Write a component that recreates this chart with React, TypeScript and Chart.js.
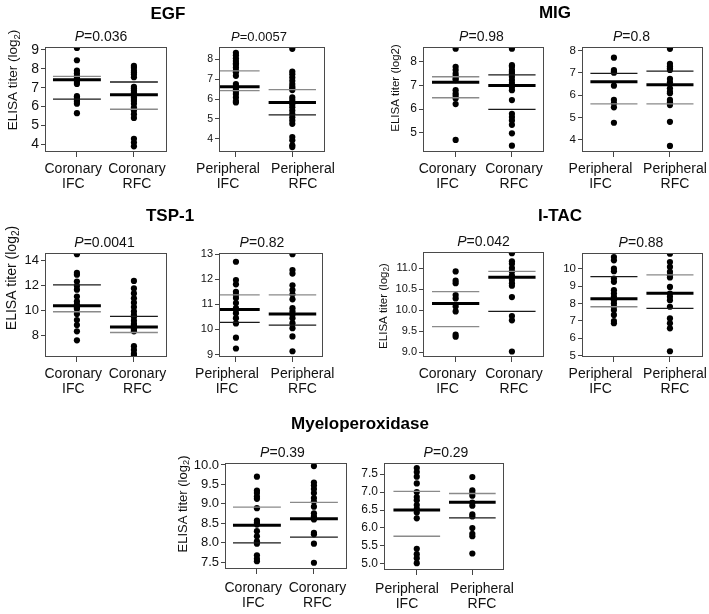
import React, { useEffect, useRef } from "react";
import { Chart, registerables } from "chart.js";
Chart.register(...registerables);

const FONT = "'Liberation Sans', Arial, Helvetica, sans-serif";

// ---------- categories / titles ----------
const coronaryCategories = [["Coronary", "IFC"], ["Coronary", "RFC"]];
const peripheralCategories = [["Peripheral", "IFC"], ["Peripheral", "RFC"]];
const panelTitles = ["EGF", "MIG", "TSP-1", "I-TAC", "Myeloperoxidase"];
const yTitleParts = ["ELISA titer (log", "2", ")"];
const yTitlePlain = ["ELISA titer (log2", "", ")"];

// ---------- EGF ----------
const egfCorIFC = [9.1, 8.45, 7.9, 7.75, 7.6, 7.5, 7.45, 7.4, 7.3, 7.2, 6.55, 6.45, 6.35, 6.25, 6.15, 5.65];
const egfCorRFC = [8.15, 8.05, 7.9, 7.8, 7.7, 7.55, 7.05, 6.95, 6.85, 6.75, 6.65, 6.5, 6.4, 6.3, 6.15, 5.95, 5.8, 5.6, 5.4, 4.3, 4.1, 3.9];
const egfCorMedian = [7.42, 6.63];
const egfCorQ3 = [7.6, 7.3];
const egfCorQ1 = [6.39, 5.86];
const egfCorTicks = [4, 5, 6, 7, 8, 9];
const egfCorP = "0.036";

const egfPerIFC = [8.33, 8.2, 8.05, 7.92, 7.8, 7.72, 7.58, 7.42, 7.35, 7.17, 6.75, 6.62, 6.5, 6.38, 6.25, 6.08, 5.9, 5.83];
const egfPerRFC = [8.53, 7.38, 7.25, 7.08, 6.92, 6.75, 6.62, 6.53, 6.45, 6.08, 5.95, 5.83, 5.72, 5.58, 5.42, 5.25, 5.08, 4.92, 4.75, 4.08, 3.92, 3.67, 3.58];
const egfPerMedian = [6.62, 5.83];
const egfPerQ3 = [7.42, 6.47];
const egfPerQ1 = [6.42, 5.2];
const egfPerTicks = [4, 5, 6, 7, 8];
const egfPerP = "0.0057";

// ---------- MIG ----------
const migCorIFC = [8.56, 7.79, 7.65, 7.5, 7.39, 7.3, 7.23, 6.8, 6.66, 6.56, 6.45, 6.21, 4.69];
const migCorRFC = [8.56, 7.86, 7.79, 7.65, 7.58, 7.51, 7.37, 7.23, 7.1, 6.94, 6.8, 6.38, 5.8, 5.66, 5.52, 5.33, 4.97, 4.45];
const migCorMedian = [7.14, 7.0];
const migCorQ3 = [7.37, 7.45];
const migCorQ1 = [6.48, 5.99];
const migCorTicks = [5, 6, 7, 8];
const migCorP = "0.98";

const migPerIFC = [7.67, 7.12, 7.05, 7.0, 6.42, 5.78, 5.63, 5.45, 4.76];
const migPerRFC = [8.07, 7.4, 7.28, 7.2, 7.12, 6.72, 6.57, 6.3, 6.15, 6.08, 5.78, 5.67, 5.55, 4.8, 3.72];
const migPerMedian = [6.6, 6.46];
const migPerQ3 = [6.97, 7.07];
const migPerQ1 = [5.6, 5.6];
const migPerTicks = [4, 5, 6, 7, 8];
const migPerP = "0.8";

// ---------- TSP-1 ----------
const tspCorIFC = [14.5, 13.0, 12.85, 12.3, 11.95, 11.65, 11.1, 10.7, 10.45, 10.3, 10.2, 10.1, 9.7, 9.2, 8.8, 8.3, 7.57];
const tspCorRFC = [12.35, 11.75, 11.35, 10.95, 10.6, 10.25, 9.9, 9.62, 9.45, 9.15, 8.9, 8.8, 8.75, 8.65, 8.55, 8.5, 8.4, 8.3, 7.1, 6.8, 6.5, 6.35];
const tspCorMedian = [10.35, 8.65];
const tspCorQ3 = [12.03, 9.5];
const tspCorQ1 = [9.87, 8.2];
const tspCorTicks = [8, 10, 12, 14];
const tspCorP = "0.0041";

const tspPerIFC = [12.7, 11.97, 11.8, 11.5, 11.38, 11.25, 11.05, 10.85, 10.8, 10.65, 10.45, 10.24, 9.67, 9.24];
const tspPerRFC = [13.0, 12.37, 12.23, 11.76, 11.57, 11.4, 11.2, 10.85, 10.72, 10.6, 10.45, 10.25, 10.05, 9.72, 9.13];
const tspPerMedian = [10.8, 10.62];
const tspPerQ3 = [11.38, 11.38];
const tspPerQ1 = [10.28, 10.17];
const tspPerTicks = [9, 10, 11, 12, 13];
const tspPerP = "0.82";

// ---------- I-TAC ----------
const itacCorIFC = [10.92, 10.7, 10.64, 10.36, 10.28, 10.09, 9.97, 9.42, 9.37];
const itacCorRFC = [11.35, 11.16, 11.1, 11.0, 10.92, 10.82, 10.72, 10.64, 10.58, 10.31, 9.86, 9.76, 9.02];
const itacCorMedian = [10.16, 10.78];
const itacCorQ3 = [10.44, 10.92];
const itacCorQ1 = [9.61, 9.97];
const itacCorTicks = [9.0, 9.5, 10.0, 10.5, 11.0];
const itacCorP = "0.042";

const itacPerIFC = [10.67, 10.48, 10.0, 9.85, 9.43, 9.24, 8.76, 8.57, 8.38, 8.19, 8.0, 7.81, 7.62, 7.34, 6.99, 6.86];
const itacPerRFC = [10.86, 10.38, 10.1, 9.81, 9.62, 9.49, 8.95, 8.57, 8.38, 8.19, 7.81, 7.14, 6.86, 6.57, 5.25];
const itacPerMedian = [8.27, 8.59];
const itacPerQ3 = [9.54, 9.64];
const itacPerQ1 = [7.81, 7.72];
const itacPerTicks = [5, 6, 7, 8, 9, 10];
const itacPerP = "0.88";

// ---------- Myeloperoxidase ----------
const mpoCorIFC = [9.7, 9.34, 9.28, 9.19, 9.13, 8.89, 8.57, 8.52, 8.47, 8.3, 8.17, 8.04, 7.98, 7.68, 7.59, 7.53];
const mpoCorRFC = [9.97, 9.55, 9.47, 9.38, 9.28, 9.15, 9.06, 8.93, 8.76, 8.68, 8.64, 8.6, 8.26, 8.22, 7.98, 7.49];
const mpoCorMedian = [8.45, 8.62];
const mpoCorQ3 = [8.92, 9.04];
const mpoCorQ1 = [8.0, 8.15];
const mpoCorTicks = [7.5, 8.0, 8.5, 9.0, 9.5, 10.0];
const mpoCorP = "0.39";

const mpoPerIFC = [7.67, 7.56, 7.43, 7.24, 7.0, 6.86, 6.77, 6.64, 6.53, 6.43, 6.27, 5.42, 5.27, 5.16, 5.02];
const mpoPerRFC = [7.42, 7.05, 6.98, 6.9, 6.71, 6.62, 6.38, 6.32, 6.0, 5.84, 5.77, 5.29];
const mpoPerMedian = [6.5, 6.72];
const mpoPerQ3 = [7.02, 6.96];
const mpoPerQ1 = [5.77, 6.28];
const mpoPerTicks = [5.0, 5.5, 6.0, 6.5, 7.0, 7.5];
const mpoPerP = "0.29";

type PanelData = {
  cats: string[][];
  ifc: number[];
  rfc: number[];
  med: number[];
  q3: number[];
  q1: number[];
  ticks: number[];
  dec: number;
  yMin: number;
  yMax: number;
  p: string;
};

const panels: PanelData[] = [
  { cats: coronaryCategories, ifc: egfCorIFC, rfc: egfCorRFC, med: egfCorMedian, q3: egfCorQ3, q1: egfCorQ1, ticks: egfCorTicks, dec: 0, yMin: 3.6, yMax: 9.15, p: egfCorP },
  { cats: peripheralCategories, ifc: egfPerIFC, rfc: egfPerRFC, med: egfPerMedian, q3: egfPerQ3, q1: egfPerQ1, ticks: egfPerTicks, dec: 0, yMin: 3.33, yMax: 8.62, p: egfPerP },
  { cats: coronaryCategories, ifc: migCorIFC, rfc: migCorRFC, med: migCorMedian, q3: migCorQ3, q1: migCorQ1, ticks: migCorTicks, dec: 0, yMin: 4.18, yMax: 8.63, p: migCorP },
  { cats: peripheralCategories, ifc: migPerIFC, rfc: migPerRFC, med: migPerMedian, q3: migPerQ3, q1: migPerQ1, ticks: migPerTicks, dec: 0, yMin: 3.45, yMax: 8.15, p: migPerP },
  { cats: coronaryCategories, ifc: tspCorIFC, rfc: tspCorRFC, med: tspCorMedian, q3: tspCorQ3, q1: tspCorQ1, ticks: tspCorTicks, dec: 0, yMin: 6.23, yMax: 14.6, p: tspCorP },
  { cats: peripheralCategories, ifc: tspPerIFC, rfc: tspPerRFC, med: tspPerMedian, q3: tspPerQ3, q1: tspPerQ1, ticks: tspPerTicks, dec: 0, yMin: 8.9, yMax: 13.05, p: tspPerP },
  { cats: coronaryCategories, ifc: itacCorIFC, rfc: itacCorRFC, med: itacCorMedian, q3: itacCorQ3, q1: itacCorQ1, ticks: itacCorTicks, dec: 1, yMin: 8.89, yMax: 11.38, p: itacCorP },
  { cats: peripheralCategories, ifc: itacPerIFC, rfc: itacPerRFC, med: itacPerMedian, q3: itacPerQ3, q1: itacPerQ1, ticks: itacPerTicks, dec: 0, yMin: 4.92, yMax: 10.9, p: itacPerP },
  { cats: coronaryCategories, ifc: mpoCorIFC, rfc: mpoCorRFC, med: mpoCorMedian, q3: mpoCorQ3, q1: mpoCorQ1, ticks: mpoCorTicks, dec: 1, yMin: 7.33, yMax: 10.05, p: mpoCorP },
  { cats: peripheralCategories, ifc: mpoPerIFC, rfc: mpoPerRFC, med: mpoPerMedian, q3: mpoPerQ3, q1: mpoPerQ1, ticks: mpoPerTicks, dec: 1, yMin: 4.83, yMax: 7.81, p: mpoPerP },
];

// ---------- layout / styles ----------
const G = "#8a8a8a";
const D = "#1a1a1a";
type YTitle = { cx: number; cy: number; size: number; parts: string[] } | null;
type Layout = {
  box: { l: number; t: number; r: number; b: number };
  xMin: number; xMax: number; yw: number; yFont: number; pFont: number; pCx: number;
  labelCx: number[]; labelDy: number;
  yTitle: YTitle; qColors: string[][];
};

const layouts: Layout[] = [
  { box: { l: 45, t: 47, r: 167, b: 152 }, xMin: 0.44, xMax: 2.58, yw: 45, yFont: 14, pFont: 14, pCx: 101, labelCx: [73.3, 137], labelDy: 17, yTitle: { cx: 12.5, cy: 80, size: 13.5, parts: yTitleParts }, qColors: [[G, D], [D, G]] },
  { box: { l: 219, t: 47, r: 325, b: 152 }, xMin: 0.7, xMax: 2.58, yw: 30, yFont: 10.5, pFont: 13, pCx: 259, labelCx: [228, 303], labelDy: 17, yTitle: null, qColors: [[G, G], [G, D]] },
  { box: { l: 423, t: 47, r: 544, b: 152 }, xMin: 0.42, xMax: 2.57, yw: 43, yFont: 12, pFont: 14, pCx: 481.5, labelCx: [447.5, 514], labelDy: 17, yTitle: { cx: 395, cy: 88, size: 11.5, parts: yTitlePlain }, qColors: [[G, G], [D, D]] },
  { box: { l: 582, t: 47, r: 703, b: 152 }, xMin: 0.43, xMax: 2.59, yw: 27, yFont: 11.5, pFont: 14, pCx: 631.5, labelCx: [600.5, 675], labelDy: 17, yTitle: null, qColors: [[D, G], [D, G]] },
  { box: { l: 45, t: 253, r: 167, b: 357 }, xMin: 0.44, xMax: 2.58, yw: 45, yFont: 13, pFont: 14, pCx: 104.5, labelCx: [73.3, 137.5], labelDy: 17, yTitle: { cx: 11, cy: 278, size: 14, parts: yTitleParts }, qColors: [[D, G], [D, G]] },
  { box: { l: 219, t: 253, r: 323, b: 357 }, xMin: 0.7, xMax: 2.54, yw: 30, yFont: 11, pFont: 14, pCx: 262, labelCx: [227, 302.5], labelDy: 17, yTitle: null, qColors: [[G, D], [G, D]] },
  { box: { l: 423, t: 252, r: 544, b: 357 }, xMin: 0.42, xMax: 2.57, yw: 53, yFont: 11, pFont: 14, pCx: 483.5, labelCx: [447.5, 514], labelDy: 17, yTitle: { cx: 382.5, cy: 306, size: 11.5, parts: yTitleParts }, qColors: [[G, G], [G, D]] },
  { box: { l: 582, t: 253, r: 703, b: 357 }, xMin: 0.43, xMax: 2.59, yw: 27, yFont: 11.5, pFont: 14, pCx: 641, labelCx: [600.5, 675], labelDy: 17, yTitle: null, qColors: [[D, G], [G, D]] },
  { box: { l: 225, t: 463, r: 347, b: 569 }, xMin: 0.44, xMax: 2.58, yw: 55, yFont: 13, pFont: 14, pCx: 282.5, labelCx: [253.3, 317.5], labelDy: 19, yTitle: { cx: 182, cy: 504, size: 13, parts: yTitleParts }, qColors: [[G, D], [G, D]] },
  { box: { l: 384, t: 463, r: 504, b: 570 }, xMin: 0.41, xMax: 2.57, yw: 30, yFont: 12, pFont: 14, pCx: 446, labelCx: [407, 482], labelDy: 19, yTitle: null, qColors: [[G, G], [G, D]] },
];

const titleLayouts = [
  { cx: 168, cy: 14 },
  { cx: 555, cy: 13 },
  { cx: 170, cy: 216 },
  { cx: 560, cy: 216 },
  { cx: 360, cy: 424 },
];

const PAD_TOP = 32;
const PAD_RIGHT = 14;
const X_AXIS_H = 46;
const HALF_W = 0.42;
const CAT_FONT = 14;
const CAT_LINE = 15;

function PanelChart({ panel, layout }: { panel: PanelData; layout: Layout }) {
  const ref = useRef<HTMLCanvasElement>(null);
  const L = layout;
  const canvasLeft = L.box.l - L.yw;
  const canvasTop = L.box.t - PAD_TOP;
  const width = L.yw + (L.box.r - L.box.l) + PAD_RIGHT;
  const height = PAD_TOP + (L.box.b - L.box.t) + X_AXIS_H;

  useEffect(() => {
    const canvas = ref.current!;
    const lineDs: any[] = [];
    const stats = [panel.med, panel.q3, panel.q1];
    stats.forEach((arr, k) => {
      arr.forEach((v, c) => {
        const xc = c + 1;
        lineDs.push({
          data: [{ x: xc - HALF_W, y: v }, { x: xc + HALF_W, y: v }],
          showLine: true,
          borderColor: k === 0 ? "#000" : L.qColors[c][k - 1],
          borderWidth: k === 0 ? 3 : 1.3,
          pointRadius: 0,
          fill: false,
        });
      });
    });
    const pointDs = [panel.ifc, panel.rfc].map((vals, c) => ({
      data: vals.map((v) => ({ x: c + 1, y: v })),
      showLine: false,
      pointRadius: 3.1,
      pointBackgroundColor: "#000",
      pointBorderWidth: 0,
      borderColor: "#000",
    }));

    const annot = {
      id: "annot",
      afterDraw(chart: any) {
        const ctx = chart.ctx as CanvasRenderingContext2D;
        const a = chart.chartArea;
        ctx.save();
        ctx.strokeStyle = "#4a4a4a";
        ctx.lineWidth = 1;
        ctx.strokeRect(Math.round(a.left) + 0.5, Math.round(a.top) + 0.5, Math.round(a.right - a.left) - 1, Math.round(a.bottom - a.top) - 1);
        ctx.fillStyle = "#111";
        // category labels (two lines each)
        ctx.textAlign = "center";
        ctx.textBaseline = "middle";
        ctx.font = `${CAT_FONT}px ${FONT}`;
        panel.cats.forEach((lines, c) => {
          const lx = L.labelCx[c] - canvasLeft;
          lines.forEach((s, j) => {
            ctx.fillText(s, lx, a.bottom + L.labelDy + j * CAT_LINE);
          });
        });
        // P value
        ctx.textAlign = "left";
        const fi = `italic ${L.pFont}px ${FONT}`;
        const fn = `${L.pFont}px ${FONT}`;
        ctx.font = fi;
        const wP = ctx.measureText("P").width;
        ctx.font = fn;
        const rest = "=" + panel.p;
        const wR = ctx.measureText(rest).width;
        const cx = L.pCx - canvasLeft;
        const cy = a.top - 10;
        const x = cx - (wP + wR) / 2;
        ctx.font = fi;
        ctx.fillText("P", x, cy);
        ctx.font = fn;
        ctx.fillText(rest, x + wP, cy);
        // y title
        if (L.yTitle) {
          const t = L.yTitle;
          ctx.translate(t.cx - canvasLeft, t.cy - canvasTop);
          ctx.rotate(-Math.PI / 2);
          const f = `${t.size}px ${FONT}`;
          const fs = `${t.size * 0.72}px ${FONT}`;
          ctx.font = f;
          const w1 = ctx.measureText(t.parts[0]).width;
          const w3 = ctx.measureText(t.parts[2]).width;
          ctx.font = fs;
          const w2 = t.parts[1] ? ctx.measureText(t.parts[1]).width : 0;
          let xx = -(w1 + w2 + w3) / 2;
          const base = t.size * 0.36;
          ctx.textBaseline = "alphabetic";
          ctx.font = f;
          ctx.fillText(t.parts[0], xx, base);
          xx += w1;
          if (t.parts[1]) {
            ctx.font = fs;
            ctx.fillText(t.parts[1], xx, base + t.size * 0.2);
            xx += w2;
          }
          ctx.font = f;
          ctx.fillText(t.parts[2], xx, base);
        }
        ctx.restore();
      },
    };

    const chart = new Chart(canvas, {
      type: "scatter",
      data: { datasets: [...lineDs, ...pointDs] },
      options: {
        responsive: false,
        animation: false,
        devicePixelRatio: 1,
        layout: { padding: { top: PAD_TOP, right: PAD_RIGHT, left: 0, bottom: 0 } },
        plugins: { legend: { display: false }, tooltip: { enabled: false }, title: { display: false } },
        scales: {
          x: {
            type: "linear",
            min: L.xMin,
            max: L.xMax,
            afterBuildTicks: (s: any) => { s.ticks = [{ value: 1 }, { value: 2 }]; },
            afterFit: (s: any) => { s.height = X_AXIS_H; s.paddingLeft = 0; s.paddingRight = 0; },
            ticks: {
              callback: () => "",
              autoSkip: false,
              maxRotation: 0,
              minRotation: 0,
            },
            grid: { drawOnChartArea: false, drawTicks: true, tickLength: 5, color: "#444" },
            border: { display: false },
          },
          y: {
            type: "linear",
            min: panel.yMin,
            max: panel.yMax,
            afterBuildTicks: (s: any) => { s.ticks = panel.ticks.map((v) => ({ value: v })); },
            afterFit: (s: any) => { s.width = L.yw; s.paddingTop = 0; s.paddingBottom = 0; },
            ticks: {
              callback: (v: any) => Number(v).toFixed(panel.dec),
              font: { family: FONT, size: L.yFont },
              color: "#111",
              padding: 2,
            },
            grid: { drawOnChartArea: false, drawTicks: true, tickLength: 4, color: "#444" },
            border: { display: false },
          },
        },
      },
      plugins: [annot],
    } as any);
    return () => chart.destroy();
  }, []);

  return (
    <canvas
      ref={ref}
      width={width}
      height={height}
      style={{ position: "absolute", left: canvasLeft, top: canvasTop, width, height }}
    />
  );
}

export default function App() {
  return (
    <div style={{ position: "absolute", left: 0, top: 0, width: 709, height: 614, background: "#fff", overflow: "hidden" }}>
      {panels.map((p, i) => (
        <PanelChart key={i} panel={p} layout={layouts[i]} />
      ))}
      {panelTitles.map((t, i) => (
        <div
          key={t}
          style={{
            position: "absolute",
            left: titleLayouts[i].cx - 100,
            top: titleLayouts[i].cy - 10,
            width: 200,
            height: 20,
            lineHeight: "20px",
            textAlign: "center",
            fontFamily: FONT,
            fontWeight: "bold",
            fontSize: 17,
            color: "#000",
          }}
        >
          {t}
        </div>
      ))}
    </div>
  );
}
